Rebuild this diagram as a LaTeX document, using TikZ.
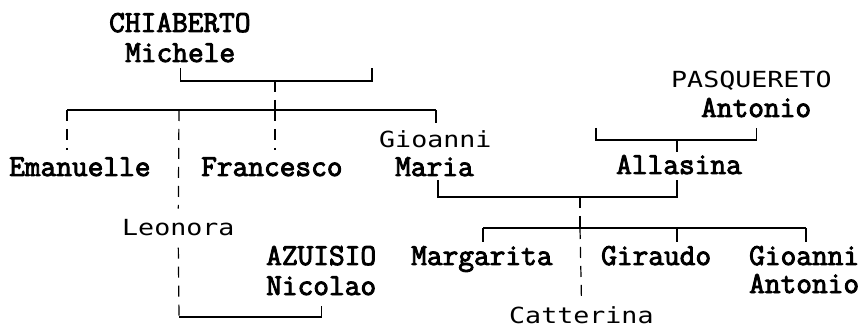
\documentclass[tikz,border=0pt]{standalone}
\usepackage{fontspec}
\newfontfamily\heavymono{Latin Modern Mono}[FakeBold=3]
\newfontfamily\lightmono{DejaVu Sans Mono}[FakeStretch=1.2]
\usepackage{tikz}
\usetikzlibrary{calc, positioning}

\begin{document}
\begin{tikzpicture}[x=1pt,y=-1pt,
    person/.style={font=\heavymono\fontsize{30.5}{30}\selectfont,inner sep=0pt,anchor=base west},
    lperson/.style={font=\lightmono\fontsize{22.2}{30}\selectfont,inner sep=0pt,anchor=base west},
    link/.style={line width=1.2pt},
    dlink/.style={line width=1.2pt,dash pattern=on 11pt off 8pt}]
    \useasboundingbox (0,0) rectangle (865,331);
    % names
    \node[person] (chiaberto) at (109,32) {CHIABERTO};
    \node[person] (michele) at (125,62) {Michele};
    \node[person] (emanuelle) at (9,176) {Emanuelle};
    \node[person] (francesco) at (201,176) {Francesco};
    \node[lperson] (gioanni) at (379,148) {Gioanni};
    \node[person] (maria) at (395,176) {Maria};
    \node[lperson] (leonora) at (122,236) {Leonora};
    \node[person] (azuisio) at (266,265) {AZUISIO};
    \node[person] (nicolao) at (266,295) {Nicolao};
    \node[lperson] (pasquereto) at (671,88) {PASQUERETO};
    \node[person] (antonio) at (701,117) {Antonio};
    \node[person] (allasina) at (616,174) {Allasina};
    \node[person] (margarita) at (411,265) {Margarita};
    \node[person] (giraudo) at (601,265) {Giraudo};
    \node[person] (gioanniA) at (749,265) {Gioanni};
    \node[person] (antonioA) at (749,293) {Antonio};
    \node[lperson] (catterina) at (509,323) {Catterina};
    % junctions
    \coordinate (spouseA) at (372,68); %配偶者(名前なし)
    \coordinate (coupleA) at (275,81);
    \coordinate (kidsL) at (67,110);
    \coordinate (kidsR) at (436,110);
    \coordinate (coupleB) at (580,197);
    \coordinate (kidsBL) at (483,228);
    \coordinate (kidsBR) at (806,228);
    \coordinate (coupleC) at (179,317);
    \coordinate (coupleD) at (677,140);
    % Chiaberto Michele
    \draw[link] ($(michele.south)+(0,6)$) |- (coupleA) -| (spouseA);
    \draw[dlink] (coupleA) -- (coupleA |- kidsL);
    \draw[link] (kidsL) -- (kidsR);
    \draw[dlink] (kidsL) -- ++(0,40); %Emanuelle
    \draw[dlink] (kidsL -| coupleA) -- ++(0,40); %Francesco
    \draw[dlink] (kidsL -| coupleC) -- ($(leonora.north)+(0,-11)$); %Leonora
    \draw[link] (kidsR) -- ++(0,13); %Gioanni
    % Leonora - Azuisio
    \draw[dlink] ($(leonora.south)+(0,11)$) -- (coupleC);
    \draw[link] (coupleC) -| ($(nicolao.south)+(0,11)$);
    % Pasquereto - Allasina
    \draw[link] (596,128) |- (coupleD) -| ($(antonio.south)+(0,11)$);
    \draw[link] (coupleD) -- ++(0,12); %Allasina
    % Gioanni Maria - Allasina
    \draw[link] (438,180) |- (coupleB) -| (coupleD |- 0,180);
    \draw[dlink] (coupleB) -- (coupleB |- kidsBL);
    \draw[link] (kidsBL) -- (kidsBR);
    \draw[link] (kidsBL) -- ++(0,14); %Margarita
    \draw[link] (kidsBL -| coupleD) -- ++(0,14); %Giraudo
    \draw[link] (kidsBR) -- ++(0,14); %Gioanni Antonio
    \draw[dlink] (coupleB |- kidsBL) -- ($(catterina.north)+(0,-10)$); %Catterina
\end{tikzpicture}
\end{document}
